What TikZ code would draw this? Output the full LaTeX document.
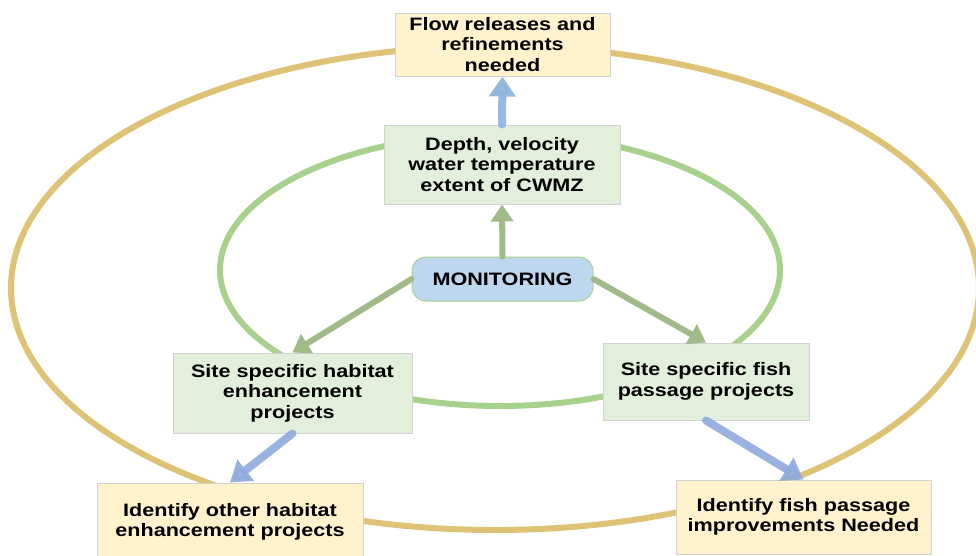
\documentclass[tikz,border=0pt]{standalone}
\usepackage{fontspec}
\setmainfont{Liberation Sans}[FakeStretch=1.2]
\usetikzlibrary{arrows.meta}
\definecolor{boxyellow}{RGB}{255,242,204}
\definecolor{boxgreen}{RGB}{226,239,218}
\definecolor{boxblue}{RGB}{189,215,238}
\definecolor{ringgreen}{RGB}{169,209,142}
\definecolor{ringgold}{RGB}{222,194,118}
\definecolor{boxedge}{RGB}{210,210,210}
\definecolor{arrgreen}{RGB}{160,186,138}
\definecolor{arrblue}{RGB}{143,170,220}
\definecolor{arrsky}{RGB}{140,180,220}
\tikzset{
  lbl/.style={font=\fontsize{18}{20.5}\selectfont\bfseries, align=center, inner sep=0pt},
  ybox/.style={lbl, draw=boxedge, line width=1pt, fill=boxyellow},
  gbox/.style={lbl, draw=boxedge, line width=1pt, fill=boxgreen},
  monbox/.style={lbl, draw=ringgreen, line width=1pt, fill=boxblue, rounded corners=14pt},
  garrow/.style={draw=arrgreen, line width=6pt, line cap=round, -{Triangle[width=22pt,length=17pt]}},
  barrow/.style={draw=arrblue, line width=8pt, line cap=round, opacity=0.9, -{Triangle[width=26pt,length=20pt]}},
  tarrow/.style={draw=arrsky, line width=8pt, line cap=round, opacity=0.9, -{Triangle[width=26pt,length=20pt]}},
}
\begin{document}
\begin{tikzpicture}[x=1pt,y=-1pt]
\useasboundingbox (0,0) rectangle (976,555);
% rings
\draw[ringgold, line width=6pt] (495,288) ellipse [x radius=484, y radius=242];
\draw[ringgreen, line width=6pt] (500,270) ellipse [x radius=280, y radius=136];
% boxes
\node[ybox, minimum width=215pt, minimum height=63pt] (flow) at (502.5,44.5) {Flow releases and\\refinements\\needed};
\node[gbox, minimum width=236pt, minimum height=79pt] (depth) at (502,164.5) {Depth, velocity\\water temperature\\extent of CWMZ};
\node[monbox, minimum width=181pt, minimum height=44pt] (mon) at (502.5,279) {MONITORING};
\node[gbox, minimum width=239pt, minimum height=80pt] (habitat) at (292.5,393) {Site specific habitat\\enhancement\\projects};
\node[gbox, minimum width=206pt, minimum height=77pt] (fish) at (706,381.5) {Site specific fish\\passage projects};
\node[ybox, minimum width=266pt, minimum height=78pt] (other) at (230,522) {Identify other habitat\\enhancement projects};
\node[ybox, minimum width=255pt, minimum height=74pt] (improve) at (803.5,517) {Identify fish passage\\improvements Needed};
% arrows
\draw[tarrow] (depth.north) -- (flow.south);
\draw[garrow] (mon.north) -- (depth.south);
\draw[garrow] (mon.west) -- (habitat.north);
\draw[garrow] (mon.east) -- (fish.north);
\draw[barrow] (habitat.south) -- (other.north);
\draw[barrow] (fish.south) -- (improve.north);
\end{tikzpicture}
\end{document}
